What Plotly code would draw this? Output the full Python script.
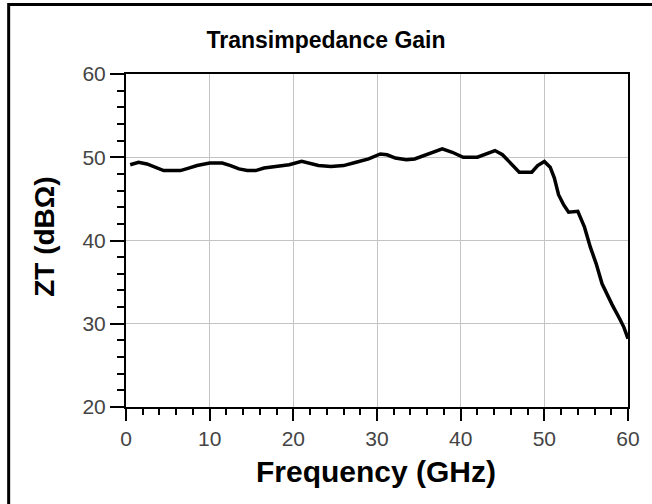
import plotly.graph_objects as go

freq_ghz = [0.5, 1.5, 2.5, 3.5, 4.5, 5.5, 6.5, 7.5, 8.5, 10.0, 11.5, 12.5, 13.5, 14.5,
            15.5, 16.5, 18.0, 19.5, 21.0, 22.0, 23.0, 24.5, 26.0, 27.5, 29.0, 30.4,
            31.2, 32.2, 33.5, 34.5, 36.0, 37.8, 39.0, 40.3, 42.0, 43.0, 44.1, 45.0,
            46.0, 47.0, 48.5, 49.2, 50.0, 50.7, 51.2, 51.7, 52.3, 52.9, 54.0, 54.8,
            55.5, 56.2, 56.9, 57.5, 58.1, 59.0, 59.5, 60.0]
zt_db = [49.1, 49.4, 49.2, 48.8, 48.4, 48.4, 48.4, 48.7, 49.0, 49.3, 49.3, 49.0, 48.6, 48.4,
         48.4, 48.7, 48.9, 49.1, 49.5, 49.3, 49.0, 48.9, 49.0, 49.4, 49.8, 50.4,
         50.3, 49.9, 49.7, 49.8, 50.3, 51.0, 50.6, 50.0, 50.0, 50.4, 50.8, 50.3,
         49.2, 48.2, 48.2, 49.0, 49.5, 48.8, 47.5, 45.5, 44.3, 43.4, 43.5, 41.6,
         39.2, 37.2, 34.8, 33.5, 32.3, 30.6, 29.6, 28.2]

x_ticks = [0, 10, 20, 30, 40, 50, 60]
y_ticks = [20, 30, 40, 50, 60]

W, H = 652, 504
L, R, T, B = 126, 19, 74, 97
pw, ph = W - L - R, H - T - B

fig = go.Figure()
fig.add_trace(go.Scatter(x=freq_ghz, y=zt_db, mode="lines",
                         line=dict(color="black", width=3.5), showlegend=False))

tickfont = dict(family="Liberation Sans", size=21, color="#444444")
common = dict(showline=True, linecolor="black", linewidth=2, mirror=True,
              showgrid=True, gridcolor="#c4c4c4", gridwidth=1, zeroline=False,
              ticks="outside", tickcolor="black", tickwidth=1.5, tickfont=tickfont)

fig.update_xaxes(range=[0, 60], tickvals=x_ticks, ticklen=12,
                 minor=dict(dtick=2, ticks="outside", ticklen=6, tickcolor="black",
                            tickwidth=1.5, showgrid=False), **common)
fig.update_yaxes(range=[20, 60], tickvals=y_ticks, ticklen=14,
                 minor=dict(dtick=2, ticks="outside", ticklen=7, tickcolor="black",
                            tickwidth=1.5, showgrid=False), **common)

def px_x(p):
    return (p - L) / pw

def px_y(p):
    return (T + ph - p) / ph

title_font = dict(family="Liberation Sans", size=23, color="black", weight=700)
xaxis_font = dict(family="Liberation Sans", size=30, color="black", weight=700)
yaxis_font = dict(family="Liberation Sans", size=28, color="black", weight=700)
fig.update_layout(
    width=W, height=H,
    margin=dict(l=L, r=R, t=T, b=B),
    paper_bgcolor="white", plot_bgcolor="white",
    title=dict(text="Transimpedance Gain", x=0.5, xref="container", xanchor="center",
               y=1 - 40 / H, yref="container", yanchor="middle", font=title_font),
    annotations=[
        dict(text="Frequency (GHz)", x=px_x(378), xref="paper", y=px_y(471),
             yref="paper", xanchor="center", yanchor="middle", showarrow=False, font=xaxis_font),
        dict(text="ZT (dBΩ)", x=px_x(43), xref="paper", y=px_y(237), yref="paper",
             xanchor="center", yanchor="middle", textangle=-90, showarrow=False, font=yaxis_font),
    ],
    shapes=[
        dict(type="rect", xref="paper", yref="paper", x0=px_x(7.5), x1=px_x(W + 20),
             y0=px_y(4.5), y1=px_y(H + 20), line=dict(color="black", width=3),
             fillcolor="rgba(0,0,0,0)", layer="above"),
    ],
)

fig.write_html("out.html", config={"displayModeBar": False},
               post_script="document.body.style.margin='0';document.body.style.overflow='hidden';")
